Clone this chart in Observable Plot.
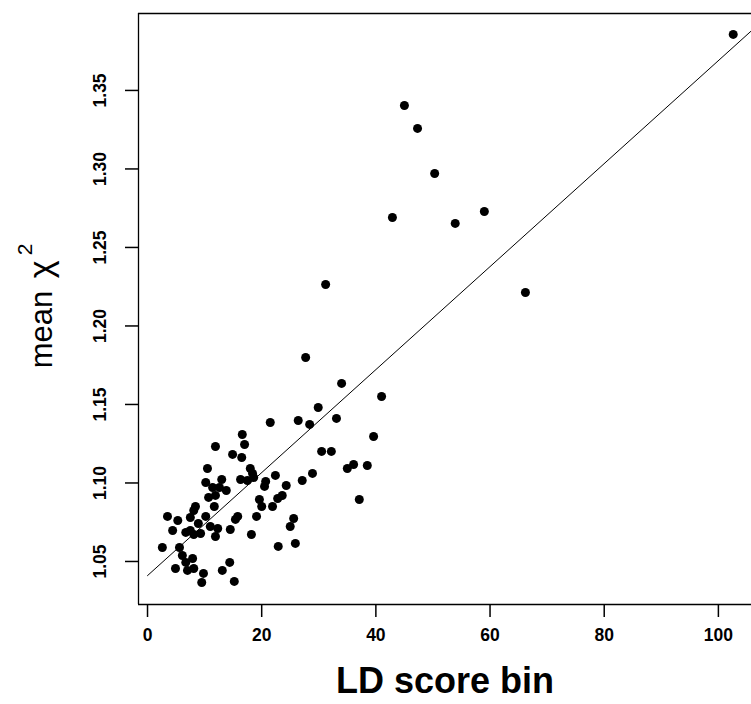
<!DOCTYPE html>
<html>
<head>
<meta charset="utf-8">
<script src="https://cdn.jsdelivr.net/npm/d3@7"></script>
<script src="https://cdn.jsdelivr.net/npm/@observablehq/plot@0.6"></script>
<style>
  body { margin: 0; background: #fff; }
  #chart svg { display: block; }
</style>
</head>
<body>
<div id="chart"></div>
<script>
// LD score bin (x) and mean chi-square (y)
const ldScore = [
  102.6, 45.0, 47.3, 50.3, 42.9, 53.9, 59.0, 66.2, 31.2, 27.7,
  34.0, 29.9, 41.0, 26.4, 21.5, 28.4, 33.1, 39.6, 16.6, 17.0,
  11.9, 14.9, 16.5, 30.5, 32.2, 35.0, 36.1, 38.5, 37.1, 10.5,
  28.9, 27.1, 22.4, 20.7, 20.5, 24.3, 18.0, 18.4, 16.3, 17.5,
  18.6, 13.0, 10.2, 11.4, 12.6, 13.8, 10.7, 11.7, 19.6, 20.0,
  21.9, 22.8, 23.6, 25.6, 25.0, 19.1, 15.8, 15.4, 14.5, 18.2,
  22.9, 25.9, 8.4, 8.1, 7.5, 10.2, 3.5, 5.3, 8.9, 4.4,
  6.7, 7.5, 8.1, 9.3, 11.0, 12.3, 11.9, 2.6, 5.6, 6.1,
  7.9, 6.7, 4.9, 7.0, 8.1, 9.8, 9.5, 13.1, 14.4, 15.2,
  11.9
];
const meanChi2 = [
  1.3857, 1.3404, 1.3258, 1.2971, 1.2691, 1.2653, 1.2729, 1.2213, 1.2264, 1.1799,
  1.1634, 1.1481, 1.1551, 1.1398, 1.1385, 1.1373, 1.1411, 1.1296, 1.1309, 1.1245,
  1.1232, 1.1182, 1.1162, 1.1201, 1.1201, 1.1092, 1.1118, 1.1111, 1.0895, 1.1092,
  1.1061, 1.1016, 1.1048, 1.1010, 1.0978, 1.0984, 1.1092, 1.1061, 1.1022, 1.1016,
  1.1035, 1.1022, 1.1003, 1.0971, 1.0971, 1.0952, 1.0908, 1.0850, 1.0895, 1.0850,
  1.0850, 1.0901, 1.0920, 1.0774, 1.0723, 1.0787, 1.0787, 1.0768, 1.0704, 1.0672,
  1.0596, 1.0615, 1.0850, 1.0825, 1.0780, 1.0787, 1.0787, 1.0761, 1.0742, 1.0697,
  1.0685, 1.0697, 1.0672, 1.0678, 1.0723, 1.0710, 1.0659, 1.0589, 1.0589, 1.0538,
  1.0519, 1.0494, 1.0455, 1.0443, 1.0455, 1.0424, 1.0366, 1.0443, 1.0494, 1.0373,
  1.0921
];
// fitted regression line
const fitIntercept = 1.041;
const fitSlope = 0.00328;
const fitRange = [0, 106];

const xTicks = [0, 20, 40, 60, 80, 100];
const yTicks = [1.05, 1.10, 1.15, 1.20, 1.25, 1.30, 1.35];
const xLabel = "LD score bin";
const yLabelWord = "mean ";
const yLabelSymbol = "χ";
const yLabelSup = "2";

const points = ldScore.map((x, i) => ({x, y: meanChi2[i]}));
const fitLine = fitRange.map(x => ({x, y: fitIntercept + fitSlope * x}));

const xDomain = [-1.58, 105.8];
const yDomain = [1.0226, 1.399];

const chart = Plot.plot({
  width: 751,
  height: 704,
  marginLeft: 138,
  marginRight: 0,
  marginTop: 13,
  marginBottom: 100,
  style: {fontFamily: "'Liberation Sans', Arial, sans-serif", background: "#fff", color: "#000"},
  x: {domain: xDomain},
  y: {domain: yDomain},
  marks: [
    Plot.ruleX([xDomain[0]], {stroke: "#000", strokeWidth: 1.3}),
    Plot.ruleY([yDomain[0], yDomain[1]], {stroke: "#000", strokeWidth: 1.3}),
    Plot.axisX(xTicks, {tickSize: 13, tickPadding: 11, fontSize: 17.5, fontWeight: "bold", label: null, stroke: "#000", strokeWidth: 1.5}),
    Plot.axisY(yTicks, {tickSize: 13, tickFormat: () => "", label: null, stroke: "#000", strokeWidth: 1.5}),
    Plot.text(yTicks, {y: d => d, text: d => d.toFixed(2), frameAnchor: "left", textAnchor: "middle", lineAnchor: "middle", dx: -38, rotate: -90, fontSize: 17.5, fontWeight: "bold", fill: "#000"}),
    Plot.line(fitLine, {x: "x", y: "y", stroke: "#000", strokeWidth: 1, clip: true}),
    Plot.dot(points, {x: "x", y: "y", r: 4.5, fill: "#000", stroke: "none"}),
    Plot.text([xLabel], {frameAnchor: "bottom", lineAnchor: "middle", dy: 77, fontSize: 36, fontWeight: "bold", fill: "#000"}),
    Plot.text([yLabelWord + yLabelSymbol + yLabelSup], {frameAnchor: "left", textAnchor: "middle", lineAnchor: "middle", dx: -96, dy: -3, rotate: -90, fontSize: 31, fill: "#000", className: "ylab"})
  ]
});
document.getElementById("chart").appendChild(chart);

// rebuild the y-axis label with a real superscript
const yl = chart.querySelector(".ylab text");
if (yl) {
  const ns = "http://www.w3.org/2000/svg";
  yl.textContent = "";
  const t1 = document.createElementNS(ns, "tspan");
  t1.textContent = yLabelWord;
  const t2 = document.createElementNS(ns, "tspan");
  t2.textContent = yLabelSymbol;
  t2.setAttribute("font-size", "34");
  t2.setAttribute("dx", "4");
  const t3 = document.createElementNS(ns, "tspan");
  t3.textContent = yLabelSup;
  t3.setAttribute("dy", "-20");
  t3.setAttribute("dx", "5");
  t3.setAttribute("font-size", "21");
  yl.appendChild(t1);
  yl.appendChild(t2);
  yl.appendChild(t3);
}
</script>
</body>
</html>
